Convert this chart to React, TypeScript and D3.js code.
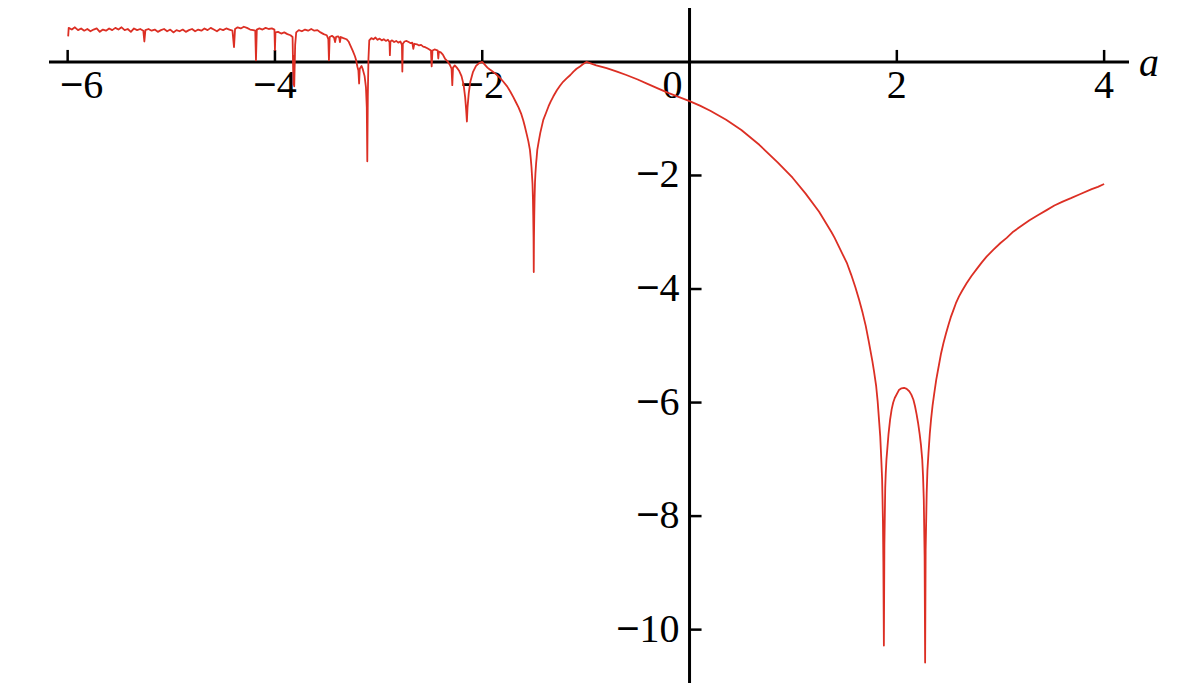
import React from 'react';
import * as d3 from 'd3';

// [a, exponent] pairs
const chaoticBand: [number, number][] = [
  [-5.995, 0.45], [-5.99, 0.6], [-5.96, 0.57], [-5.93, 0.61], [-5.9, 0.56], [-5.87, 0.59],
  [-5.84, 0.55], [-5.81, 0.58], [-5.78, 0.54], [-5.75, 0.57], [-5.72, 0.59], [-5.69, 0.53],
  [-5.66, 0.57], [-5.63, 0.55], [-5.6, 0.59], [-5.57, 0.56], [-5.54, 0.6], [-5.51, 0.57],
  [-5.48, 0.61], [-5.45, 0.56], [-5.42, 0.58], [-5.39, 0.53], [-5.36, 0.59], [-5.33, 0.56],
  [-5.3, 0.58], [-5.27, 0.55], [-5.26, 0.36], [-5.25, 0.56], [-5.22, 0.58], [-5.19, 0.55],
  [-5.16, 0.57], [-5.13, 0.53], [-5.1, 0.56], [-5.07, 0.58], [-5.04, 0.54], [-5.01, 0.57],
  [-4.98, 0.52], [-4.95, 0.56], [-4.92, 0.54], [-4.89, 0.57], [-4.86, 0.53], [-4.83, 0.56],
  [-4.8, 0.58], [-4.77, 0.54], [-4.74, 0.57], [-4.71, 0.55], [-4.68, 0.59], [-4.65, 0.56],
  [-4.62, 0.6], [-4.59, 0.57], [-4.56, 0.54], [-4.53, 0.58], [-4.5, 0.56], [-4.47, 0.59],
  [-4.44, 0.57], [-4.41, 0.55], [-4.395, 0.26], [-4.385, 0.58], [-4.36, 0.61], [-4.33, 0.59],
  [-4.3, 0.62], [-4.27, 0.6], [-4.24, 0.57], [-4.21, 0.56], [-4.19, 0.55], [-4.183, 0.03],
  [-4.175, 0.57], [-4.15, 0.59], [-4.12, 0.57], [-4.09, 0.6], [-4.06, 0.58], [-4.03, 0.59],
  [-4.005, 0.57], [-4.0, 0.21], [-3.995, 0.52], [-3.97, 0.53], [-3.94, 0.5], [-3.91, 0.52],
  [-3.88, 0.49], [-3.85, 0.47], [-3.83, 0.44], [-3.822, -0.4], [-3.818, 0.1], [-3.814, -0.43],
  [-3.805, 0.3], [-3.795, 0.52], [-3.77, 0.56], [-3.74, 0.54], [-3.71, 0.57], [-3.68, 0.55],
  [-3.65, 0.58], [-3.62, 0.55], [-3.59, 0.56], [-3.56, 0.52], [-3.53, 0.49], [-3.5, 0.47],
  [-3.485, 0.4], [-3.479, 0.03], [-3.472, 0.44], [-3.45, 0.46], [-3.43, 0.43], [-3.42, 0.35],
  [-3.41, 0.44], [-3.39, 0.45], [-3.38, 0.43], [-3.373, 0.35], [-3.365, 0.44], [-3.34, 0.42],
  [-3.31, 0.4], [-3.29, 0.36], [-3.275, 0.3], [-3.25, 0.2], [-3.228, 0.1], [-3.218, 0.04],
  [-3.205, -0.08], [-3.195, -0.15], [-3.188, -0.38], [-3.182, -0.12], [-3.165, -0.07],
  [-3.154, -0.12], [-3.135, -0.25], [-3.122, -0.45], [-3.114, -0.8], [-3.109, -1.75],
  [-3.104, -0.6], [-3.098, 0.05], [-3.09, 0.38], [-3.07, 0.42], [-3.05, 0.4], [-3.03, 0.43],
  [-3.01, 0.39], [-2.99, 0.41], [-2.97, 0.38], [-2.95, 0.4], [-2.93, 0.37], [-2.91, 0.39],
  [-2.895, 0.35], [-2.891, 0.12], [-2.886, 0.36], [-2.87, 0.38], [-2.85, 0.35], [-2.83, 0.37],
  [-2.81, 0.34], [-2.79, 0.36], [-2.775, 0.3], [-2.771, -0.17], [-2.766, 0.32], [-2.75, 0.36],
  [-2.73, 0.37], [-2.71, 0.35], [-2.69, 0.33], [-2.675, 0.34], [-2.665, 0.23], [-2.655, 0.32],
  [-2.63, 0.31], [-2.61, 0.29], [-2.59, 0.3], [-2.57, 0.27], [-2.55, 0.26], [-2.53, 0.24],
  [-2.51, 0.22], [-2.495, 0.2], [-2.488, -0.08], [-2.48, 0.2], [-2.46, 0.22], [-2.44, 0.21],
  [-2.43, 0.2], [-2.424, 0.06], [-2.418, 0.18], [-2.4, 0.17], [-2.38, 0.13], [-2.36, 0.06],
  [-2.335, 0.01], [-2.31, -0.06], [-2.296, -0.12], [-2.289, -0.41], [-2.282, -0.1],
  [-2.265, -0.06], [-2.245, -0.1], [-2.225, -0.15], [-2.2, -0.25], [-2.18, -0.4],
  [-2.165, -0.62], [-2.155, -0.85], [-2.148, -1.05], [-2.142, -0.8], [-2.13, -0.55],
  [-2.115, -0.35], [-2.09, -0.18], [-2.06, -0.07], [-2.03, -0.02],
];

const periodicWindow: [number, number][] = [
  [-2.0, 0.0], [-1.98, -0.04], [-1.95, -0.1], [-1.93, -0.13], [-1.9, -0.17], [-1.87, -0.21],
  [-1.829, -0.28], [-1.8, -0.34], [-1.76, -0.43], [-1.73, -0.52], [-1.7, -0.62],
  [-1.675, -0.71], [-1.65, -0.8], [-1.625, -0.91], [-1.604, -1.03], [-1.59, -1.13],
  [-1.57, -1.28], [-1.555, -1.4], [-1.54, -1.55], [-1.532, -1.7], [-1.525, -1.85],
  [-1.52, -2.0], [-1.515, -2.15], [-1.511, -2.4], [-1.508, -2.7], [-1.505, -3.1],
  [-1.503, -3.7], [-1.501, -3.1], [-1.498, -2.7], [-1.495, -2.4], [-1.491, -2.12],
  [-1.487, -1.97], [-1.48, -1.78], [-1.475, -1.68], [-1.469, -1.55], [-1.455, -1.4],
  [-1.44, -1.25], [-1.425, -1.13], [-1.411, -1.02], [-1.385, -0.9], [-1.36, -0.78],
  [-1.34, -0.7], [-1.315, -0.61], [-1.28, -0.5], [-1.25, -0.42], [-1.22, -0.35],
  [-1.186, -0.29], [-1.15, -0.23], [-1.12, -0.17], [-1.09, -0.12], [-1.057, -0.08],
  [-1.03, -0.04], [-0.995, 0.0],
];

const stableBranch: [number, number][] = [
  [-0.9, -0.06], [-0.8, -0.11], [-0.7, -0.17], [-0.61, -0.23], [-0.5, -0.31], [-0.4, -0.39],
  [-0.29, -0.48], [-0.2, -0.55], [-0.1, -0.62], [0.0, -0.69], [0.1, -0.77], [0.2, -0.86],
  [0.353, -1.02], [0.5, -1.2], [0.673, -1.46], [0.85, -1.77], [0.994, -2.04], [1.12, -2.32],
  [1.25, -2.64], [1.37, -3.0], [1.4, -3.1], [1.475, -3.38], [1.52, -3.55], [1.56, -3.75],
  [1.6, -3.97], [1.636, -4.19], [1.67, -4.42], [1.7, -4.65], [1.73, -4.93], [1.764, -5.27],
  [1.78, -5.45], [1.8, -5.7], [1.815, -5.98], [1.83, -6.35], [1.84, -6.6], [1.85, -7.0],
  [1.858, -7.35], [1.862, -7.7], [1.866, -8.1], [1.87, -8.8], [1.875, -10.28], [1.88, -8.5],
  [1.888, -7.5], [1.893, -7.25], [1.9, -7.0], [1.92, -6.55], [1.935, -6.3], [1.95, -6.12],
  [1.965, -6.0], [1.98, -5.92], [2.02, -5.78], [2.045, -5.75], [2.07, -5.74], [2.095, -5.76],
  [2.12, -5.8], [2.14, -5.86], [2.16, -5.95], [2.175, -6.06], [2.19, -6.2], [2.205, -6.36],
  [2.22, -6.55], [2.233, -6.75], [2.245, -7.0], [2.253, -7.3], [2.26, -7.7], [2.268, -8.7],
  [2.273, -10.58], [2.278, -8.6], [2.288, -7.6], [2.295, -7.2], [2.305, -6.9], [2.318, -6.55],
  [2.33, -6.3], [2.345, -6.05], [2.36, -5.85], [2.38, -5.6], [2.4, -5.4], [2.425, -5.15],
  [2.45, -4.95], [2.475, -4.78], [2.5, -4.62], [2.52, -4.5], [2.544, -4.38], [2.57, -4.25],
  [2.6, -4.13], [2.63, -4.03], [2.673, -3.9], [2.72, -3.77], [2.77, -3.65], [2.82, -3.53],
  [2.866, -3.43], [2.93, -3.31], [3.0, -3.19], [3.06, -3.1], [3.123, -2.99], [3.2, -2.89],
  [3.28, -2.79], [3.36, -2.7], [3.445, -2.61], [3.52, -2.53], [3.6, -2.46], [3.68, -2.4],
  [3.766, -2.33], [3.88, -2.24], [3.94, -2.2], [4.0, -2.15],
];

const xTicks = [-6, -4, -2, 0, 2, 4];
const yTicks = [-2, -4, -6, -8, -10];

const FONT = "Liberation Serif";
const MINUS_FONT = "Liberation Sans";

// minus sign in its own tspan so the digits keep the serif face
function TickLabel({ value, ...rest }: { value: number } & React.SVGProps<SVGTextElement>) {
  return (
    <text fontFamily={FONT} fontSize={40} fill="#000" {...rest}>
      {value < 0 && <tspan fontFamily={MINUS_FONT}>{"\u2212"}</tspan>}
      <tspan fontFamily={FONT}>{Math.abs(value)}</tspan>
    </text>
  );
}

export default function App() {
  const xScale = d3.scaleLinear().domain([-6.18, 4.24]).range([49, 1129]);
  const yScale = d3.scaleLinear().domain([0.95, -10.94]).range([8, 683]);

  const y0 = yScale(0);
  const x0 = xScale(0);
  const [xl, xr] = xScale.range();
  const [yt, yb] = yScale.range();

  const line = d3.line<[number, number]>()
    .x(d => xScale(d[0]))
    .y(d => yScale(d[1]));
  const curve = line([...chaoticBand, ...periodicWindow, ...stableBranch]) ?? "";

  // small nudges so labels clear the frame edge and the vertical axis
  const labelShift = (t: number) => (t === -6 ? 14 : t === 0 ? -17 : 0);

  return (
    <svg width={1200} height={690}
      style={{ position: "absolute", left: 0, top: 0, background: "#fff" }}>
      {/* x axis */}
      <line x1={xl} x2={xr} y1={y0} y2={y0} stroke="#000" strokeWidth={3} />
      {xTicks.filter(t => t !== 0).map(t => (
        <line key={`xt${t}`} x1={xScale(t)} x2={xScale(t)} y1={y0} y2={y0 - 12}
          stroke="#000" strokeWidth={2.5} />
      ))}
      {xTicks.map(t => (
        <TickLabel key={`xl${t}`} value={t} x={xScale(t) + labelShift(t)} y={y0 + 36}
          textAnchor="middle" />
      ))}
      <text x={1139} y={y0 + 14} fontFamily={FONT} fontSize={40} fontStyle="italic" fill="#000">a</text>

      {/* y axis */}
      <line x1={x0} x2={x0} y1={yt} y2={yb} stroke="#000" strokeWidth={3} />
      {yTicks.map(t => (
        <g key={`y${t}`}>
          <line x1={x0} x2={x0 + 12} y1={yScale(t)} y2={yScale(t)} stroke="#000" strokeWidth={2.5} />
          <TickLabel value={t} x={x0 - 10} y={yScale(t) + 12} textAnchor="end" />
        </g>
      ))}

      <path d={curve} fill="none" stroke="#dc2f24" strokeWidth={1.8} strokeLinejoin="round" />
    </svg>
  );
}
